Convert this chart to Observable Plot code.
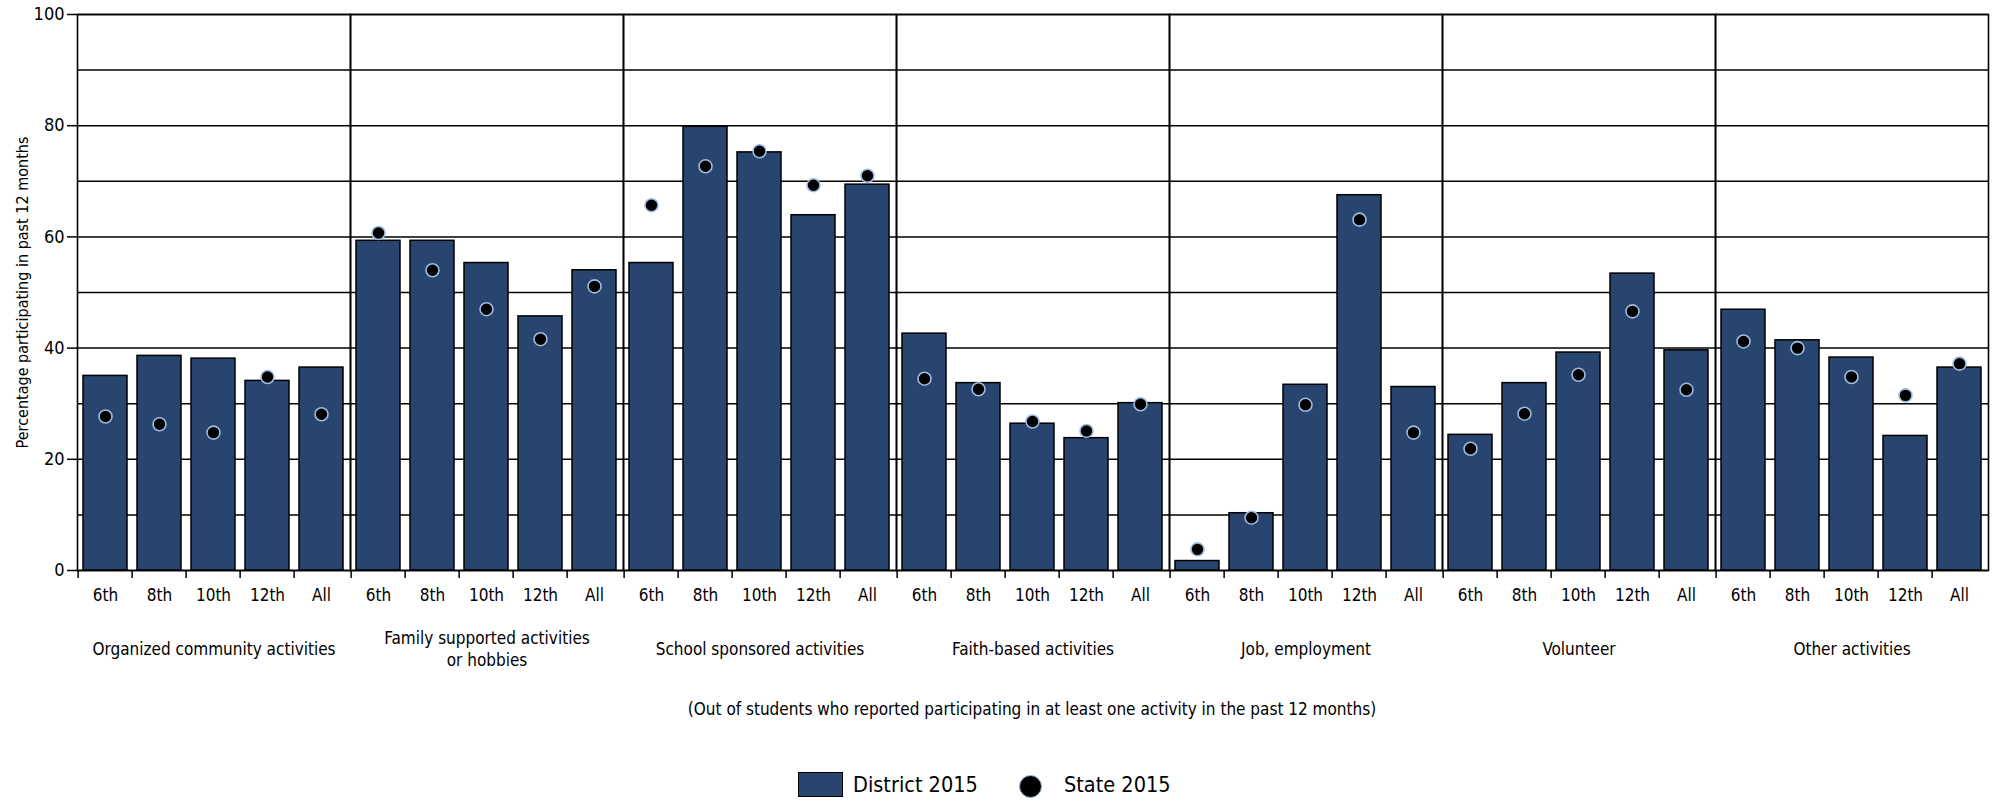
<!DOCTYPE html>
<html>
<head>
<meta charset="utf-8">
<script src="https://cdn.jsdelivr.net/npm/d3@7"></script>
<script src="https://cdn.jsdelivr.net/npm/@observablehq/plot@0.6"></script>
<style>
  html, body { margin: 0; padding: 0; background: #fff; }
  body { font-family: "DejaVu Sans Condensed", "Liberation Sans Narrow", sans-serif; color: #000; }
  #wrap { position: relative; width: 1999px; height: 801px; overflow: hidden; }
  #chart svg { display: block; }
  #note { position: absolute; left: 74px; width: 1916px; top: 697px; text-align: center; font-size: 17px; line-height: 24px; }
  .lg { position: absolute; white-space: nowrap; }
  #sw { left: 798px; top: 772px; width: 43px; height: 23px; background: #27456f; border: 1.5px solid #000; }
  #swText { left: 853px; top: 770px; font-size: 21.5px; line-height: 30px; }
  #dot { left: 1019px; top: 775px; width: 21px; height: 21px; border-radius: 50%; background: #000; border: 1.5px solid #9fbbe0; }
  #dotText { left: 1064px; top: 770px; font-size: 21.5px; line-height: 30px; }
</style>
</head>
<body>
<div id="wrap">
  <div id="chart"></div>
  <div id="note"></div>
  <div class="lg" id="sw"></div>
  <div class="lg" id="swText"></div>
  <div class="lg" id="dot"></div>
  <div class="lg" id="dotText"></div>
</div>
<script>
// ---- data ----
const groups = [
  "Organized community activities",
  "Family supported activities or hobbies",
  "School sponsored activities",
  "Faith-based activities",
  "Job, employment",
  "Volunteer",
  "Other activities"
];
const groupLabels = [
  "Organized community activities",
  "Family supported activities\nor hobbies",
  "School sponsored activities",
  "Faith-based activities",
  "Job, employment",
  "Volunteer",
  "Other activities"
];
const grades = ["6th", "8th", "10th", "12th", "All"];
const district2015 = [
  [35.0, 38.6, 38.1, 34.1, 36.5],
  [59.3, 59.3, 55.3, 45.7, 54.0],
  [55.3, 79.8, 75.2, 63.9, 69.4],
  [42.6, 33.7, 26.4, 23.8, 30.1],
  [1.7, 10.3, 33.4, 67.5, 33.0],
  [24.4, 33.7, 39.2, 53.4, 39.6],
  [46.9, 41.4, 38.3, 24.2, 36.5]
];
const state2015 = [
  [27.7, 26.3, 24.8, 34.8, 28.1],
  [60.7, 54.0, 47.0, 41.6, 51.1],
  [65.7, 72.7, 75.4, 69.3, 71.0],
  [34.5, 32.6, 26.8, 25.1, 29.9],
  [3.8, 9.5, 29.8, 63.1, 24.8],
  [21.9, 28.2, 35.2, 46.6, 32.5],
  [41.2, 40.0, 34.8, 31.5, 37.2]
];
const yTicks = [0, 20, 40, 60, 80, 100];
const yGrid = [0, 10, 20, 30, 40, 50, 60, 70, 80, 90, 100];
const yTitle = "Percentage participating in past 12 months";
const footnote = "(Out of students who reported participating in at least one activity in the past 12 months)";
const seriesNames = ["District 2015", "State 2015"];

// ---- table ----
const rows = [];
groups.forEach((g, i) => grades.forEach((gr, j) => rows.push({
  group: g, grade: gr, district: district2015[i][j], state: state2015[i][j]
})));

const W = 1999, H = 680, mL = 74, mR = 9, mT = 14, mB = 110;
const halfStep = (W - mL - mR) / groups.length / grades.length / 2;
const barColor = "#27456f";
const font = '"DejaVu Sans Condensed", "Liberation Sans Narrow", sans-serif';

const chart = Plot.plot({
  width: W, height: H,
  marginLeft: mL, marginRight: mR, marginTop: mT, marginBottom: mB,
  style: { fontFamily: font, fontSize: "17px", color: "#000", background: "#fff", overflow: "visible" },
  fx: { domain: groups, padding: 0, axis: null },
  x: { domain: grades, paddingInner: 0.18, paddingOuter: 0.09, axis: null },
  y: { domain: [0, 100], axis: null },
  marks: [
    Plot.gridY(yGrid, { stroke: "#000", strokeOpacity: 1, strokeWidth: 1.5 }),
    Plot.barY(rows, { fx: "group", x: "grade", y: "district", fill: barColor, stroke: "#000", strokeWidth: 1.5 }),
    Plot.frame({ stroke: "#000", strokeWidth: 1.6 }),
    Plot.dot(rows, { fx: "group", x: "grade", y: "state", r: 6.5, fill: "#000", stroke: "#9fbbe0", strokeWidth: 1.6 }),
    Plot.axisY(yTicks, { tickSize: 10, tickPadding: 3, fontSize: 18, label: null, strokeWidth: 1.5 }),
    Plot.axisX({ tickSize: 0, tickPadding: 18, fontSize: 17, label: null }),
    Plot.axisX({ tickSize: 8, tickFormat: () => "", dx: -halfStep, label: null, strokeWidth: 1.5 }),
    Plot.text(groups, { fx: d => d, text: (d, i) => groupLabels[i], frameAnchor: "bottom", dy: 77, lineAnchor: "middle", lineHeight: 1.3, fontSize: 17 }),
    Plot.text([groups[0]], { fx: d => d, text: () => yTitle, frameAnchor: "left", textAnchor: "middle", rotate: -90, dx: -55, fontSize: 16 })
  ]
});
document.getElementById("chart").appendChild(chart);
document.getElementById("note").textContent = footnote;
document.getElementById("swText").textContent = seriesNames[0];
document.getElementById("dotText").textContent = seriesNames[1];
</script>
</body>
</html>
